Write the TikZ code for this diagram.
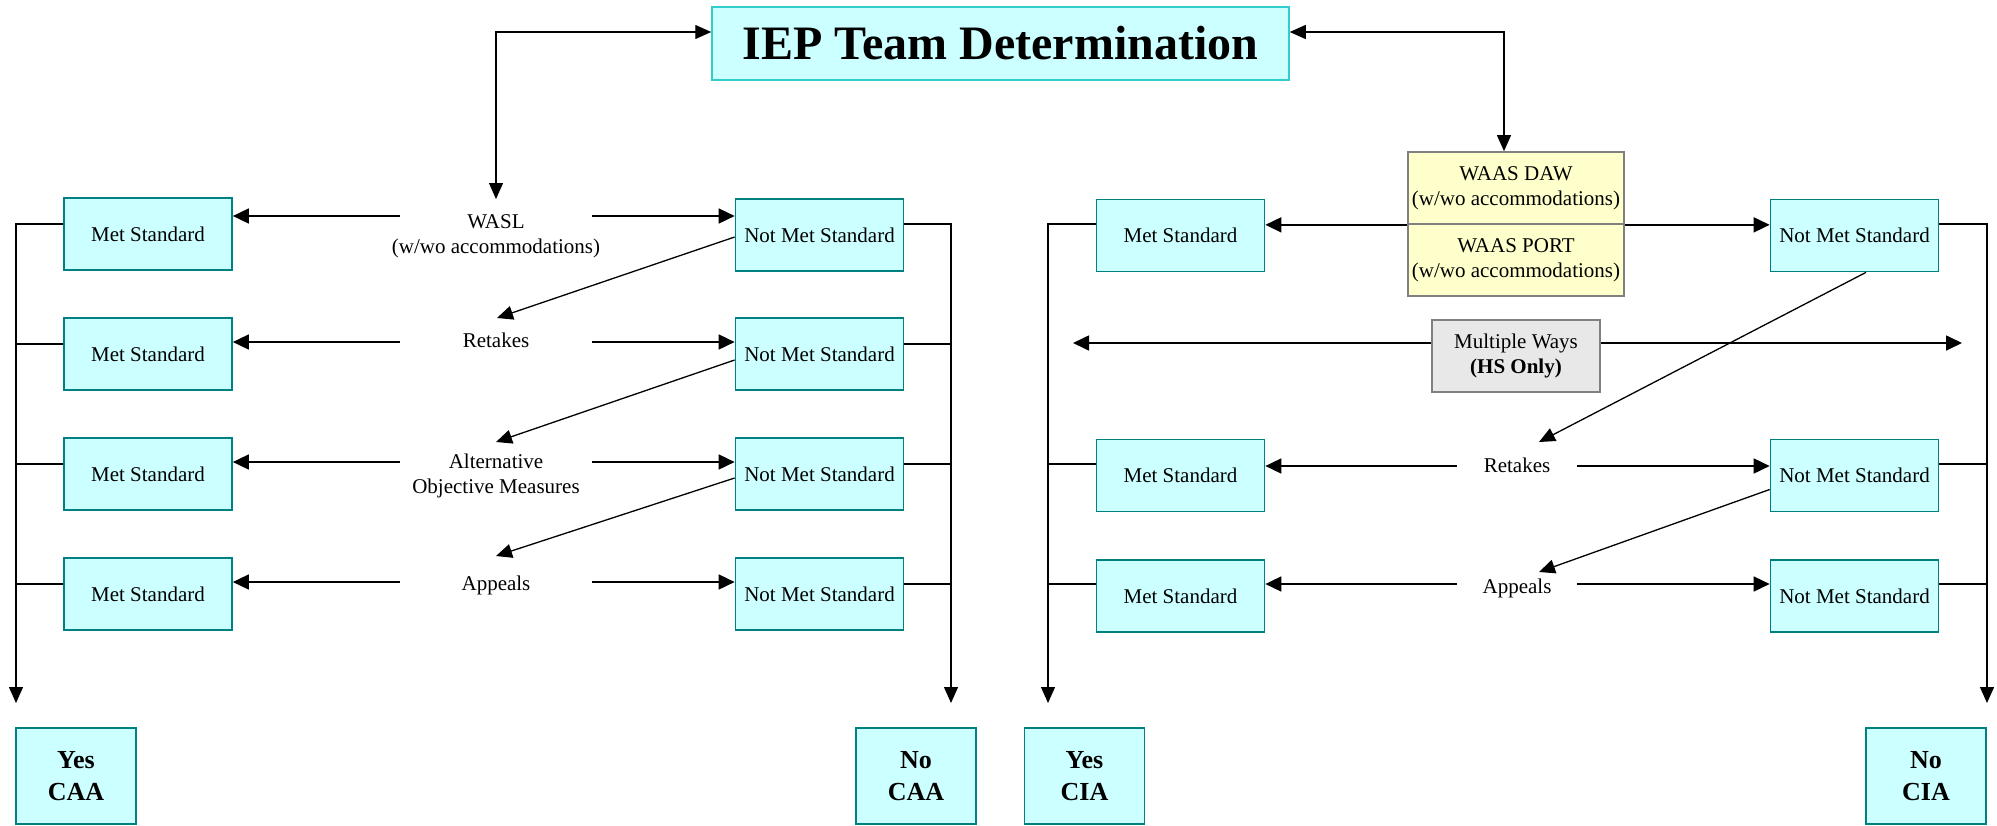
\documentclass[tikz,border=0pt]{standalone}
\usepackage{fontspec}
\setmainfont{Liberation Serif}
\usetikzlibrary{arrows.meta}
\definecolor{boxfill}{HTML}{CCFFFF}
\definecolor{boxline}{HTML}{008080}
\definecolor{titleline}{HTML}{33CCCC}
\definecolor{waasfill}{HTML}{FFFFCC}
\definecolor{grayline}{HTML}{808080}
\definecolor{mwfill}{HTML}{E8E8E8}
\begin{document}
\begin{tikzpicture}[x=0.5pt,y=-0.5pt,
  stdbox/.style={draw=boxline, fill=boxfill, line width=0.85pt, minimum width=84pt, minimum height=36pt, inner sep=0pt, font=\fontsize{10.5}{12.5}\selectfont, align=center},
  endbox/.style={draw=boxline, fill=boxfill, line width=0.85pt, minimum width=60pt, minimum height=48pt, inner sep=0pt, font=\fontsize{13}{16}\selectfont\bfseries, align=center},
  graybox/.style={draw=grayline, line width=0.85pt, minimum height=36pt, inner sep=0pt, font=\fontsize{10.5}{12.5}\selectfont, align=center},
  lbl/.style={inner sep=0pt, font=\fontsize{10.5}{12.5}\selectfont, align=center},
  harrow/.style={line width=0.85pt, -{Triangle[length=8pt,width=7.5pt]}},
  conn/.style={line width=0.65pt},
  carrow/.style={line width=0.65pt, -{Triangle[length=8pt,width=7pt]}},
  barrow/.style={line width=0.65pt, {Triangle[length=8pt,width=7pt]}-{Triangle[length=8pt,width=7pt]}},
]
\useasboundingbox (0,0) rectangle (1997,825);

% title
\node[draw=titleline, fill=boxfill, line width=0.75pt, minimum width=288.5pt, minimum height=36.5pt, inner sep=0pt, font=\fontsize{24}{28}\selectfont\bfseries] (title) at (1000.5,43.5) {IEP Team Determination};

% ---------------- left part ----------------
\node[stdbox] (mL1) at (148,234) {Met Standard};
\node[stdbox] (mL2) at (148,354) {Met Standard};
\node[stdbox] (mL3) at (148,474) {Met Standard};
\node[stdbox] (mL4) at (148,594) {Met Standard};
\node[stdbox] (nL1) at (819.5,235) {Not Met Standard};
\node[stdbox] (nL2) at (819.5,354) {Not Met Standard};
\node[stdbox] (nL3) at (819.5,474) {Not Met Standard};
\node[stdbox] (nL4) at (819.5,594) {Not Met Standard};

\node[lbl] (wasl) at (496,236.5) {WASL\\(w/wo accommodations)};
\node[lbl, minimum width=96pt] (retL) at (496,340) {Retakes};
\node[lbl, minimum width=96pt] (altL) at (496,475.5) {Alternative\\Objective Measures};
\node[lbl, minimum width=96pt] (appL) at (496,585) {Appeals};

\coordinate (LA1) at (0,216);
\coordinate (LA2) at (0,342);
\coordinate (LA3) at (0,462);
\coordinate (LA4) at (0,582);
\draw[harrow] (retL.west |- LA1) -- (mL1.east |- LA1);
\draw[harrow] (retL.east |- LA1) -- (nL1.west |- LA1);
\draw[harrow] (retL.west |- LA2) -- (mL2.east |- LA2);
\draw[harrow] (retL.east |- LA2) -- (nL2.west |- LA2);
\draw[harrow] (altL.west |- LA3) -- (mL3.east |- LA3);
\draw[harrow] (altL.east |- LA3) -- (nL3.west |- LA3);
\draw[harrow] (appL.west |- LA4) -- (mL4.east |- LA4);
\draw[harrow] (appL.east |- LA4) -- (nL4.west |- LA4);

% diagonals left
\coordinate (tipL2) at (497,318);
\coordinate (tipL3) at (496,442);
\coordinate (tipL4) at (496,556);
\draw[carrow] ([yshift=-1pt]nL1.west) -- (tipL2);
\draw[carrow] ([yshift=-3pt]nL2.west) -- (tipL3);
\draw[carrow] ([yshift=-2pt]nL3.west) -- (tipL4);

% title to WASL
\coordinate (waslTip) at (496,199);
\draw[barrow] ([yshift=5.75pt]title.west) -| (waslTip);

% buses left
\coordinate (LB1) at (0,224);
\coordinate (LB2) at (0,344);
\coordinate (LB3) at (0,464);
\coordinate (LB4) at (0,584);
\coordinate (busLend) at (16,703);
\coordinate (busRend) at (951,703);
\draw[carrow] (mL1.west |- LB1) -| (busLend);
\draw[conn] (mL2.west |- LB2) -- (LB2 -| busLend);
\draw[conn] (mL3.west |- LB3) -- (LB3 -| busLend);
\draw[conn] (mL4.west |- LB4) -- (LB4 -| busLend);
\draw[carrow] (nL1.east |- LB1) -| (busRend);
\draw[conn] (nL2.east |- LB2) -- (LB2 -| busRend);
\draw[conn] (nL3.east |- LB3) -- (LB3 -| busRend);
\draw[conn] (nL4.east |- LB4) -- (LB4 -| busRend);

\node[endbox] (yCAA) at (76,776) {Yes\\CAA};
\node[endbox] (nCAA) at (916,776) {No\\CAA};

% ---------------- right part ----------------
\node[stdbox] (mR1) at (1180.5,235.5) {Met Standard};
\node[stdbox] (mR2) at (1180.5,475.5) {Met Standard};
\node[stdbox] (mR3) at (1180.5,596) {Met Standard};
\node[stdbox] (nR1) at (1854.5,235.5) {Not Met Standard};
\node[stdbox] (nR2) at (1854.5,475.5) {Not Met Standard};
\node[stdbox] (nR3) at (1854.5,596) {Not Met Standard};

\node[graybox, fill=waasfill, minimum width=108pt] (waas1) at (1516,188) {WAAS DAW\\(w/wo accommodations)};
\node[graybox, fill=waasfill, minimum width=108pt] (waas2) at (1516,260) {WAAS PORT\\(w/wo accommodations)};
\node[graybox, fill=mwfill, minimum width=84pt] (mw) at (1516,356) {Multiple Ways\\\textbf{(HS Only)}};

\node[lbl, minimum width=60pt] (retR) at (1517,465) {Retakes};
\node[lbl, minimum width=60pt] (appR) at (1517,588) {Appeals};

\draw[barrow] ([yshift=5.75pt]title.east) -| ([xshift=-6pt]waas1.north);

\draw[harrow] (waas1.south west) -- (mR1.east |- waas1.south);
\draw[harrow] (waas1.south east) -- (nR1.west |- waas1.south);

\coordinate (RA2) at (0,466);
\coordinate (RA3) at (0,584);
\draw[harrow] (retR.west |- RA2) -- (mR2.east |- RA2);
\draw[harrow] (retR.east |- RA2) -- (nR2.west |- RA2);
\draw[harrow] (appR.west |- RA3) -- (mR3.east |- RA3);
\draw[harrow] (appR.east |- RA3) -- (nR3.west |- RA3);

% multiple ways
\coordinate (mwL) at (1073,343);
\coordinate (mwR) at (1962,343);
\draw[harrow] ([yshift=6.5pt]mw.west) -- (mwL);
\draw[harrow] ([yshift=6.5pt]mw.east) -- (mwR);

% diagonals right
\coordinate (tipR2) at (1539,442);
\coordinate (tipR3) at (1539,572);
\draw[carrow] ([xshift=5.75pt]nR1.south) -- (tipR2);
\draw[carrow] ([yshift=-7pt]nR2.west) -- (tipR3);

% buses right
\coordinate (RB1) at (0,224);
\coordinate (RB2) at (0,464);
\coordinate (RB3) at (0,584);
\coordinate (busR2end) at (1048,703);
\coordinate (busR3end) at (1987,703);
\draw[carrow] (mR1.west |- RB1) -| (busR2end);
\draw[conn] (mR2.west |- RB2) -- (RB2 -| busR2end);
\draw[conn] (mR3.west |- RB3) -- (RB3 -| busR2end);
\draw[carrow] (nR1.east |- RB1) -| (busR3end);
\draw[conn] (nR2.east |- RB2) -- (RB2 -| busR3end);
\draw[conn] (nR3.east |- RB3) -- (RB3 -| busR3end);

\node[endbox] (yCIA) at (1084.5,776) {Yes\\CIA};
\node[endbox] (nCIA) at (1926,776) {No\\CIA};
\end{tikzpicture}
\end{document}
